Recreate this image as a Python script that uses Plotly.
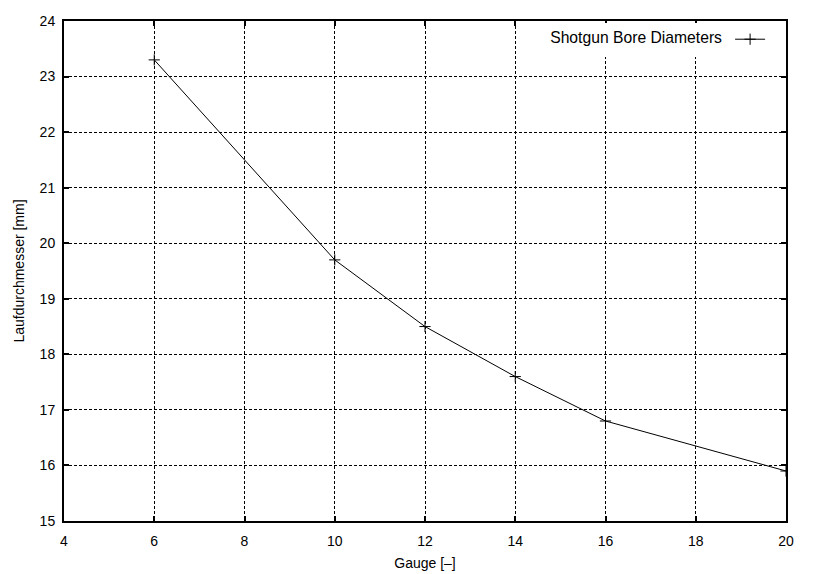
import plotly.graph_objects as go

gauge = [6, 10, 12, 14, 16, 20]
diameter = [23.3, 19.7, 18.5, 17.6, 16.8, 15.9]
series_name = "Shotgun Bore Diameters"
x_ticks = [4, 6, 8, 10, 12, 14, 16, 18, 20]
y_ticks = [15, 16, 17, 18, 19, 20, 21, 22, 23, 24]

font = dict(family="Liberation Sans, Arial, sans-serif", size=14, color="black")
legend_font = dict(family="Liberation Sans, Arial, sans-serif", size=15.7, color="black")

fig = go.Figure()
fig.add_trace(go.Scatter(
    x=gauge, y=diameter, mode="lines+markers", name="",
    line=dict(color="black", width=1),
    marker=dict(symbol="cross-thin", size=8, line=dict(color="black", width=1)),
    showlegend=True,
))

axis_common = dict(
    showgrid=True, gridcolor="black", gridwidth=1, griddash="3px,2px",
    showline=True, linecolor="black", linewidth=2, mirror="ticks",
    ticks="inside", ticklen=5, tickwidth=2, tickcolor="black",
    zeroline=False, tickfont=font, automargin=False,
)

fig.update_xaxes(range=[4, 20], tickvals=x_ticks, ticklabelstandoff=6,
                 title=dict(text="Gauge [–]", font=font, standoff=10), **axis_common)
fig.update_yaxes(range=[15, 24], tickvals=y_ticks, ticklabelstandoff=4,
                 title=dict(text="Laufdurchmesser [mm]", font=font, standoff=12), **axis_common)

fig.update_layout(
    width=817, height=574,
    margin=dict(l=64, r=31, t=21, b=53),
    plot_bgcolor="white", paper_bgcolor="white",
    font=font,
    legend=dict(
        title=dict(text=series_name, side="left", font=legend_font),
        x=0.985, y=0.997, xanchor="right", yanchor="top",
        bgcolor="white", borderwidth=0,
        itemwidth=30, font=legend_font,
    ),
)

fig.write_html("out.html")
